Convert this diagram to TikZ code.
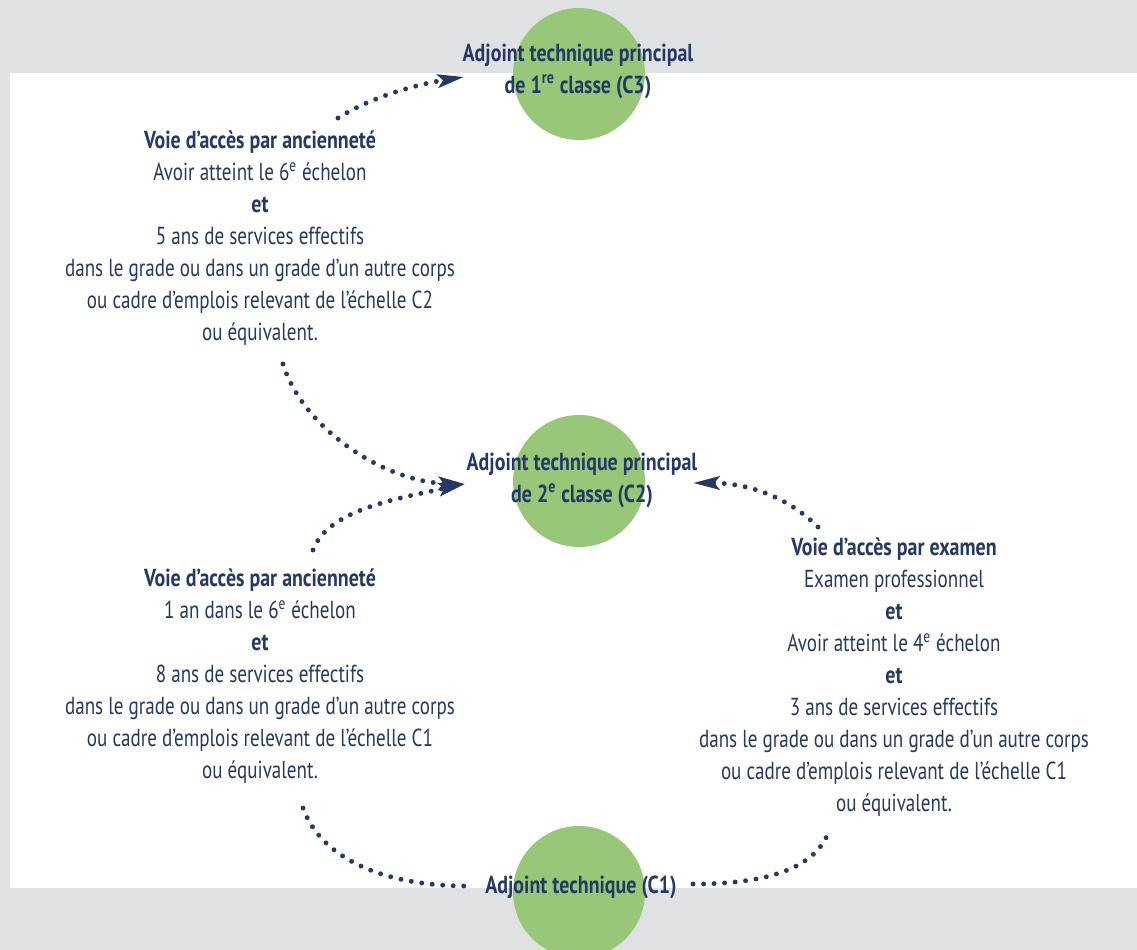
\documentclass[tikz,border=0pt]{standalone}
\usepackage{fontspec}
\setmainfont{PT Sans}[FakeStretch=0.775, BoldFeatures={FakeStretch=0.81}]
\usetikzlibrary{arrows.meta}
\definecolor{navy}{RGB}{36,57,100}
\definecolor{pastel}{RGB}{152,199,121}
\definecolor{backgray}{RGB}{224,225,227}

\begin{document}
\begin{tikzpicture}[x=0.02cm, y=-0.02cm, text=navy,
  font=\fontsize{14}{18.2}\selectfont,
  grade/.style={circle, fill=pastel, minimum size=2.64cm, inner sep=0pt},
  gradetxt/.style={align=center, font=\fontsize{14}{18.2}\selectfont\bfseries},
  voie/.style={align=center},
  dots/.style={draw=navy, line width=2.8pt, line cap=round, dash pattern=on 0pt off 6pt},
  dotarrow/.style={dots, -{Stealth[length=15pt,width=7.5pt,inset=3pt]}}]
  % fond
  \fill[backgray] (0,0) rectangle (1137,950);
  \fill[white] (10,73) rectangle (1137,888);
  \useasboundingbox (0,0) rectangle (1137,950);
  % grades
  \node[grade] (c3) at (579,74) {};
  \node[grade] (c2) at (579,481) {};
  \node[grade] (c1) at (579,892) {};
  \node[gradetxt] (c3txt) at (578,71) {Adjoint technique principal\\de 1\textsuperscript{re} classe (C3)};
  \node[gradetxt] (c2txt) at (582,480) {Adjoint technique principal\\de 2\textsuperscript{e} classe (C2)};
  \node[gradetxt] (c1txt) at (581,887) {Adjoint technique (C1)};
  % voies d'acces
  \node[voie] (anc2) at (260,238) {\textbf{Voie d’accès par ancienneté}\\Avoir atteint le 6\textsuperscript{e} échelon\\\textbf{et}\\5 ans de services effectifs\\dans le grade ou dans un grade d’un autre corps\\ou cadre d’emplois relevant de l’échelle C2\\ou équivalent.};
  \node[voie] (anc1) at (260,676) {\textbf{Voie d’accès par ancienneté}\\1 an dans le 6\textsuperscript{e} échelon\\\textbf{et}\\8 ans de services effectifs\\dans le grade ou dans un grade d’un autre corps\\ou cadre d’emplois relevant de l’échelle C1\\ou équivalent.};
  \node[voie] (exam) at (894,677) {\textbf{Voie d’accès par examen}\\Examen professionnel\\\textbf{et}\\Avoir atteint le 4\textsuperscript{e} échelon\\\textbf{et}\\3 ans de services effectifs\\dans le grade ou dans un grade d’un autre corps\\ou cadre d’emplois relevant de l’échelle C1\\ou équivalent.};
  % extremites des liaisons
  \coordinate (anc2top) at (338,118);
  \coordinate (anc2bot) at (283,364);
  \coordinate (anc1top) at (313,550);
  \coordinate (anc1bot) at (303,808);
  \coordinate (examtop) at (818,527);
  \coordinate (exambot) at (830,828);
  \coordinate (c3in) at (464,77);
  \coordinate (c2inl) at (465,484);
  \coordinate (c2inr) at (693,483);
  \coordinate (c1inl) at (467,886);
  \coordinate (c1inr) at (693,884);
  % liaisons
  \draw[dotarrow] (anc2top) .. controls +(35,-22) and +(-45,7) .. (c3in);
  \draw[dotarrow] (anc2bot) .. controls +(20,65) and +(-80,-2) .. (c2inl);
  \draw[dotarrow] (anc1top) .. controls +(15,-40) and +(-70,15) .. (c2inl);
  \draw[dotarrow] (examtop) .. controls +(-30,-30) and +(55,0) .. (c2inr);
  \draw[dots] (anc1bot) .. controls +(20,55) and +(-75,0) .. (c1inl);
  \draw[dots] (c1inr) .. controls +(75,0) and +(-12,40) .. (exambot);
\end{tikzpicture}
\end{document}
